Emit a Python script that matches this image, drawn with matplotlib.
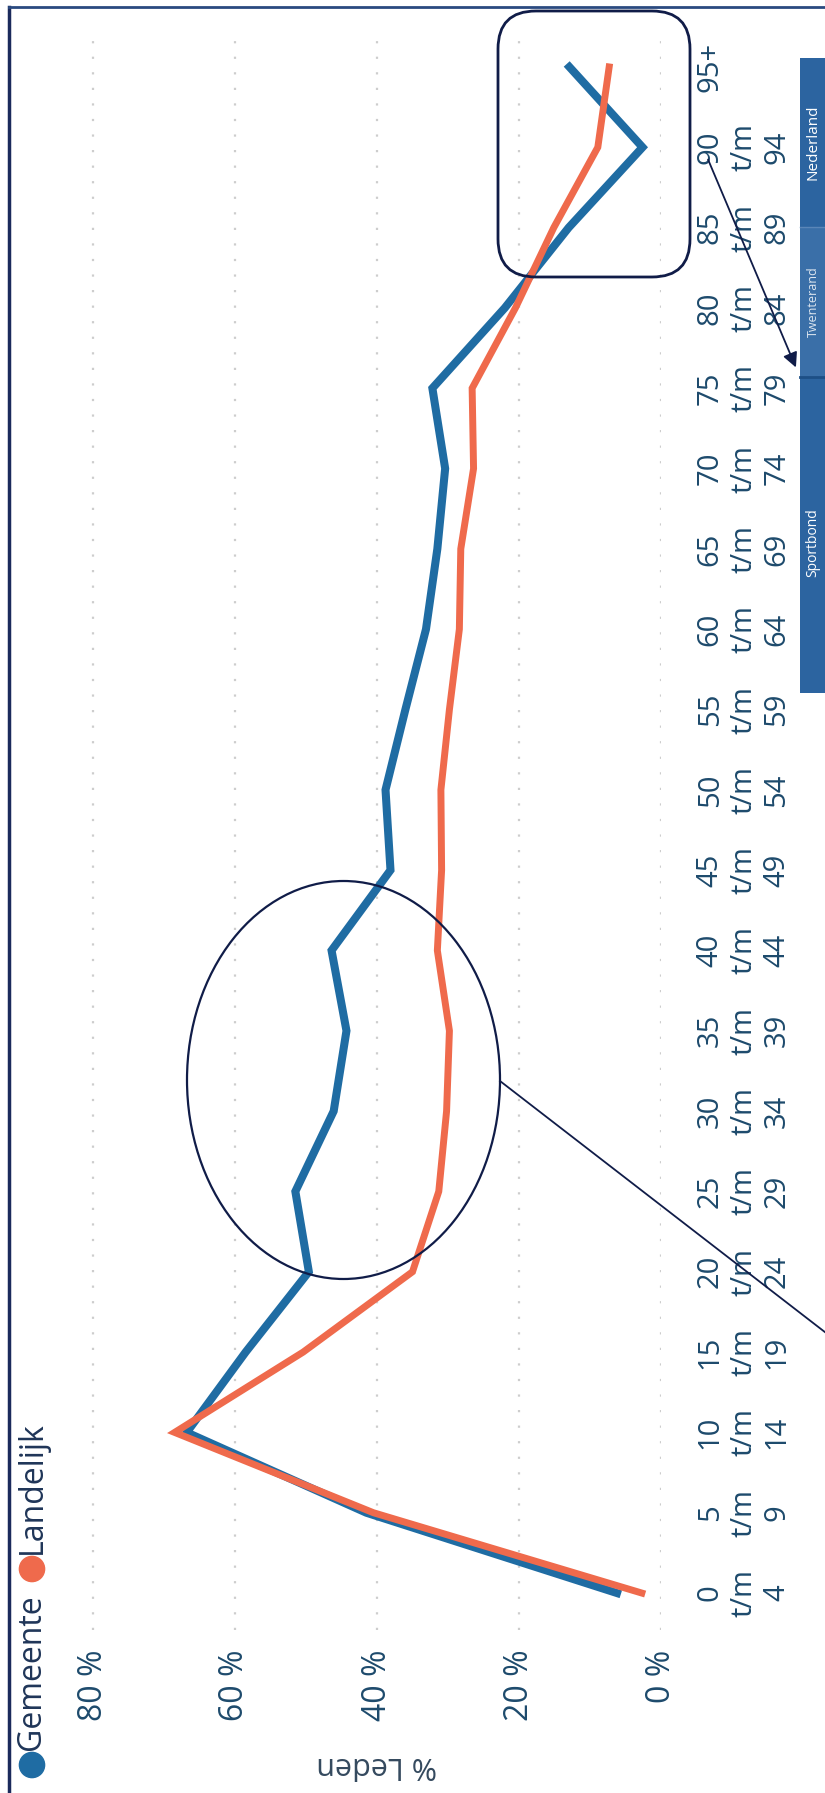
import numpy as np
import matplotlib.pyplot as plt
from matplotlib.patches import Ellipse, FancyBboxPatch, Rectangle

plt.rcParams['font.family'] = ['Open Sans', 'DejaVu Sans']

categories = ['0\nt/m\n4', '5\nt/m\n9', '10\nt/m\n14', '15\nt/m\n19', '20\nt/m\n24',
              '25\nt/m\n29', '30\nt/m\n34', '35\nt/m\n39', '40\nt/m\n44', '45\nt/m\n49',
              '50\nt/m\n54', '55\nt/m\n59', '60\nt/m\n64', '65\nt/m\n69', '70\nt/m\n74',
              '75\nt/m\n79', '80\nt/m\n84', '85\nt/m\n89', '90\nt/m\n94', '95+']
gemeente = [6.2, 41.5, 66.8, 58.5, 49.6, 51.5, 46.1, 44.3, 46.4, 38.1,
            38.8, 36.0, 33.1, 31.5, 30.4, 32.2, 22.0, 13.0, 2.6, 12.9]
landelijk = [2.7, 40.5, 68.5, 50.4, 35.0, 31.3, 30.2, 29.8, 31.5, 30.9,
             31.0, 29.8, 28.4, 28.2, 26.4, 26.6, 20.5, 15.1, 8.9, 7.3]
value_ticks = [0, 20, 40, 60, 80]
value_labels = ['0 %', '20 %', '40 %', '60 %', '80 %']
series_names = ['Gemeente', 'Landelijk']
box_names = ['Nederland', 'Twenterand', 'Sportbond']

blue = '#1f6ca3'
orange = '#ef6a4c'
text_col = '#1d4a6c'
navy = '#101c48'

W, H = 825, 1793
fig = plt.figure(figsize=(W / 100, H / 100), dpi=100)


def px(x0, y0, x1, y1):
    return [x0 / W, 1 - y1 / H, (x1 - x0) / W, (y1 - y0) / H]


# chart is turned a quarter turn: values run right->left, ages bottom->top
ax = fig.add_axes(px(60, 30, 661, 1630))
pos = np.arange(len(categories))
ax.plot(gemeente, pos, color=blue, lw=5.8, solid_joinstyle='miter', zorder=3)
ax.plot(landelijk, pos, color=orange, lw=5.0, solid_joinstyle='miter', zorder=4)
ax.set_xlim((661 - 60) / 7.1, 0)
ax.set_ylim(-0.46, len(categories) - 0.54)
for s in ax.spines.values():
    s.set_visible(False)

ax.set_xticks(value_ticks, value_labels, rotation=90)
ax.tick_params(axis='x', length=0, pad=14, labelsize=23, labelcolor=text_col)
ax.yaxis.tick_right()
ax.set_yticks(pos, categories, rotation=90, va='center', ha='left', multialignment='center')
ax.tick_params(axis='y', length=0, pad=25, labelsize=21, labelcolor=text_col)
ax.grid(axis='x', color='#cdcdcd', lw=1.6, linestyle=(0, (1, 6)))
ax.grid(axis='y', visible=False)
ax.set_axisbelow(True)

fig.text(377 / W, 1 - 1765 / H, '% Leden', rotation=180, ha='center', va='center',
         fontsize=22, color='#34495e')

# overlay in pixel coordinates for legend and hand-drawn marks
ov = fig.add_axes([0, 0, 1, 1])
ov.set_xlim(0, W)
ov.set_ylim(H, 0)
ov.axis('off')
ov.patch.set_alpha(0)

ov.scatter([32, 32], [1765, 1569], s=330, color=[blue, orange], zorder=5)
ov.text(32, 1750, series_names[0], rotation=90, ha='center', va='bottom', fontsize=23, color='#1f3558')
ov.text(32, 1554, series_names[1], rotation=90, ha='center', va='bottom', fontsize=23, color='#1f3558')

ov.plot([9, 9], [7, H], color='#1b2a5c', lw=2.5)
ov.plot([9, W], [7, 7], color='#2a4a80', lw=2.0)

ov.add_patch(Ellipse((343.5, 1080), 313, 398, fill=False, ec=navy, lw=1.6))
ov.plot([500, 830], [1081, 1336], color=navy, lw=1.3)
ov.add_patch(FancyBboxPatch((498, 11), 192, 266, boxstyle='round,pad=0,rounding_size=38',
                            fill=False, ec=navy, lw=2.0))
ov.annotate('', xy=(797, 370), xytext=(707, 157),
            arrowprops=dict(arrowstyle='-|>', color=navy, lw=1.3, mutation_scale=22))

ov.add_patch(Rectangle((800, 58), 30, 169, fc='#2c64a0', ec='none'))
ov.add_patch(Rectangle((800, 227), 30, 150, fc='#3a6fa8', ec='none'))
ov.add_patch(Rectangle((800, 377), 30, 316, fc='#2c64a0', ec='none'))
ov.plot([800, 825], [227, 227], color='#5a86b8', lw=1)
ov.plot([800, 825], [377, 377], color='#1d4f86', lw=2)
ov.text(813, 142, box_names[0], rotation=90, ha='center', va='center', fontsize=11, color='white')
ov.text(813, 302, box_names[1], rotation=90, ha='center', va='center', fontsize=9, color='#dde6f0')
ov.text(813, 543, box_names[2], rotation=90, ha='center', va='center', fontsize=10, color='white')

fig.savefig('out.png', dpi=100, facecolor='white')
